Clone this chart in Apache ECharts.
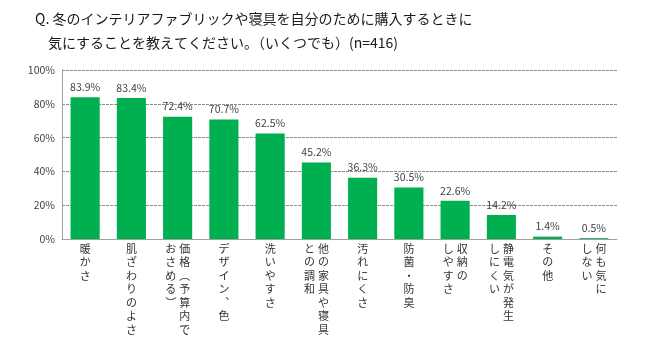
<!DOCTYPE html>
<html>
<head>
<meta charset="utf-8">
<script src="https://cdn.jsdelivr.net/npm/echarts@6/dist/echarts.min.js"></script>
<style>
  html, body { margin: 0; padding: 0; background: #fff; }
  #chart { width: 650px; height: 352px; }
</style>
</head>
<body>
<div id="chart"></div>
<script>
// Data
const titleLines = [
  'Q. 冬のインテリアファブリックや寝具を自分のために購入するときに',
  '気にすることを教えてください。（いくつでも）(n=416)'
];
// "\n" separates the vertical columns (first column is drawn on the right)
const categories = [
  '暖かさ',
  '肌ざわりのよさ',
  '価格（予算内で\nおさめる）',
  'デザイン、色',
  '洗いやすさ',
  '他の家具や寝具\nとの調和',
  '汚れにくさ',
  '防菌・防臭',
  '収納の\nしやすさ',
  '静電気が発生\nしにくい',
  'その他',
  '何も気に\nしない'
];
const values = [83.9, 83.4, 72.4, 70.7, 62.5, 45.2, 36.3, 30.5, 22.6, 14.2, 1.4, 0.5];
const yMin = 0, yMax = 100, yStep = 20;

const JP = '"Noto Sans CJK JP", "Noto Sans", sans-serif';
const vmap = { '（': '︵', '）': '︶', '、': '︑' };

function vertical(s) {
  const cols = s.split('\n').map(c => Array.from(c).map(ch => vmap[ch] || ch));
  const n = Math.max(...cols.map(c => c.length));
  const order = cols.slice().reverse();
  const lines = [];
  for (let i = 0; i < n; i++) {
    lines.push(order.map(c => '{c|' + (c[i] ? c[i] : '　') + '}').join(''));
  }
  return lines.join('\n');
}

const chart = echarts.init(document.getElementById('chart'), null, { renderer: 'canvas' });
chart.setOption({
  animation: false,
  backgroundColor: '#ffffff',
  title: [
    {
      text: titleLines[0], left: 35, top: 10, padding: 0,
      textStyle: { fontFamily: JP, fontSize: 14, fontWeight: 'normal', color: '#1a1a1a', lineHeight: 18 }
    },
    {
      text: titleLines[1], left: 48, top: 34, padding: 0,
      textStyle: { fontFamily: JP, fontSize: 14, fontWeight: 'normal', color: '#1a1a1a', lineHeight: 18 }
    }
  ],
  grid: { left: 62, right: 33, top: 70, bottom: 113, containLabel: false },
  xAxis: {
    type: 'category',
    data: categories,
    axisLine: { show: true, lineStyle: { color: '#a0a0a0', width: 1 } },
    axisTick: { show: false },
    axisLabel: {
      interval: 0,
      margin: 3,
      formatter: v => vertical(v),
      rich: {
        c: { width: 14, align: 'center', fontFamily: JP, fontSize: 11, lineHeight: 13.5, color: '#333' }
      }
    }
  },
  yAxis: {
    type: 'value',
    min: yMin, max: yMax, interval: yStep,
    axisLine: { show: true, lineStyle: { color: '#a0a0a0', width: 1 } },
    axisTick: { show: false },
    axisLabel: { formatter: '{value}%', margin: 7, fontFamily: JP, fontSize: 10.5, color: '#404040' },
    splitLine: { show: true, lineStyle: { color: '#8c8c8c', width: 1, type: [3, 1] } }
  },
  series: [{
    type: 'bar',
    data: values,
    barCategoryGap: '37%',
    itemStyle: { color: '#00b050' },
    label: {
      show: true, position: 'top', distance: 5,
      formatter: p => p.value.toFixed(1) + '%',
      fontFamily: JP, fontSize: 10.5, color: '#404040'
    }
  }]
});
</script>
</body>
</html>
